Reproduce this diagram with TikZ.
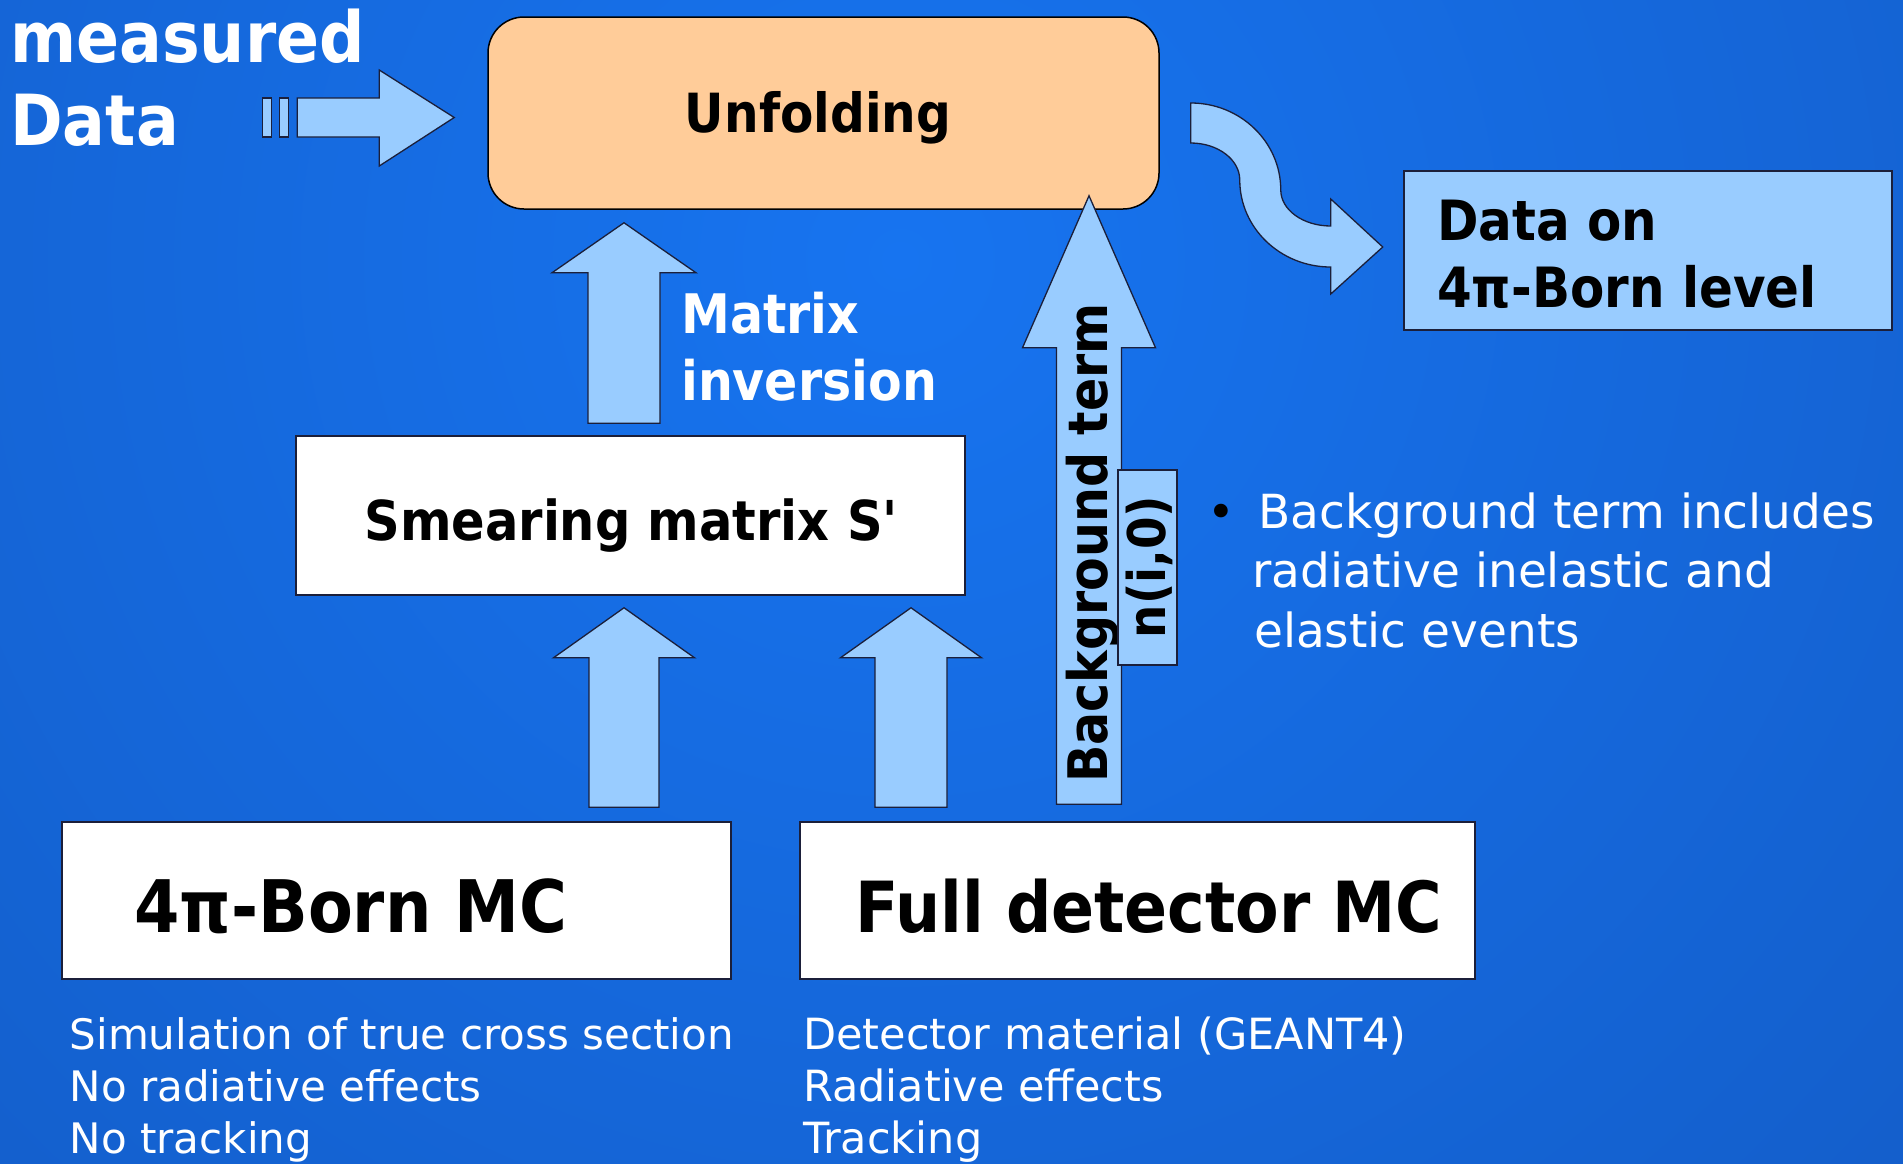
\documentclass[tikz,border=0pt]{standalone}
\usepackage{fontspec}
\setmainfont{DejaVu Sans}
\newfontfamily\condsans{DejaVu Sans}[FakeStretch=0.9]
\usetikzlibrary{calc}

\definecolor{bgin}{HTML}{1774F0}
\definecolor{bgout}{HTML}{114EAF}
\definecolor{lightblue}{HTML}{99CCFF}
\definecolor{peach}{HTML}{FFCC99}
\definecolor{edge}{HTML}{1B1F3A}

\newcommand\fsz[1]{\fontsize{#1pt}{#1pt}\selectfont}
\newcommand\bsz[1]{\condsans\bfseries\fontsize{#1pt}{#1pt}\selectfont}

\tikzset{
  blockarrow/.style={fill=lightblue, draw=edge, line width=1.3pt, line join=miter},
  panel/.style={draw=edge, line width=1.5pt, inner sep=0pt, fill=white},
  label/.style={inner sep=0pt, anchor=base west},
  heading/.style={label, font=\bsz{54.5}},
  whitehead/.style={heading, text=white},
  note/.style={label, text=white, font=\fsz{42}},
  bulletnote/.style={label, text=white, font=\fsz{47}},
}

% vertical block arrow: tail, tip, half shaft, half head, head length
\newcommand\blockup[5]{%
  \path[blockarrow] let \p1=(#1), \p2=(#2) in
    (\x1-#3pt,\y1) -- (\x1-#3pt,\y2-#5pt) -- (\x1-#4pt,\y2-#5pt) -- (\x1,\y2)
    -- (\x1+#4pt,\y2-#5pt) -- (\x1+#3pt,\y2-#5pt) -- (\x1+#3pt,\y1) -- cycle;}

\begin{document}
\begin{tikzpicture}[x=1pt,y=-1pt]
\useasboundingbox (0,0) rectangle (1903,1163);
\begin{scope}
  \clip (0,0) rectangle (1903,1163);
  \shade[inner color=bgin, outer color=bgout] (900,260) circle (2400);
\end{scope}

% boxes
\node[panel, fill=peach, draw=black, rounded corners=36pt,
      minimum width=671pt, minimum height=192pt] (unfold) at (823.5,113) {};
\node[panel, minimum width=669pt, minimum height=159pt] (smear) at (630.5,515.5) {};
\node[panel, minimum width=669pt, minimum height=157pt] (born) at (396.5,900.5) {};
\node[panel, minimum width=675pt, minimum height=157pt] (full) at (1137.5,900.5) {};
\node[panel, fill=lightblue, minimum width=488pt, minimum height=159pt] (result) at (1648,250.5) {};

% box texts
\node[heading, anchor=base, font=\bsz{54}] (unfoldtxt) at (818,132) {Unfolding};
\node[heading, anchor=base, font=\bsz{55}] (smeartxt) at (632,540) {Smearing matrix S\textquotesingle};
\node[heading, font=\bsz{72.5}] (borntxt) at (134,932) {4π-Born MC};
\node[heading, font=\bsz{70.5}] (fulltxt) at (855,932) {Full detector MC};
\node[heading, font=\bsz{55.5}] (result1) at (1437,240) {Data on};
\node[heading, font=\bsz{55.5}] (result2) at (1437,307) {4π-Born level};

% input label
\node[whitehead, font=\bsz{70.5}] (meas) at (10,62) {measured};
\node[whitehead, font=\bsz{70.5}] (data) at (10,145) {Data};

% input arrow with stripes
\coordinate (md-tip) at ($(unfold.west)+(-33,4.5)$);
\begin{scope}[shift={(md-tip)}]
  \draw[blockarrow] (0,0) -- (-75,48.5) -- (-75,19.5) -- (-157,19.5)
    -- (-157,-19.5) -- (-75,-19.5) -- (-75,-47.5) -- cycle;
  \draw[blockarrow] (-192,-19.5) rectangle (-183,19.5);
  \draw[blockarrow] (-175,-19.5) rectangle (-166,19.5);
\end{scope}

% matrix inversion arrow
\coordinate (mi-tail) at ($(smear.north)+(-6.5,-12)$);
\coordinate (mi-tip) at ($(unfold.south)+(0,13)$);
\blockup{mi-tail}{mi-tip}{36}{72}{50}
\node[whitehead] (mi1) at (681,333) {Matrix};
\node[whitehead] (mi2) at (681,400) {inversion};

% arrows from the two Monte Carlo samples
\coordinate (bl-tail) at ($(born.north)+(227.5,-14)$);
\coordinate (fl-tail) at ($(full.north)+(-226.5,-14)$);
\coordinate (sm-tip) at ($(smear.south)+(0,12)$);
\blockup{bl-tail}{sm-tip}{35}{70.5}{50}
\blockup{fl-tail}{sm-tip}{36}{70.5}{50}

% background term arrow
\coordinate (bg-tail) at ($(full.north)+(-48.5,-17)$);
\coordinate (bg-tip) at ($(unfold.south)+(0,-14)$);
\blockup{bg-tail}{bg-tip}{32.5}{66.5}{152}
\node[inner sep=0pt, anchor=base, rotate=90, font=\bsz{54.5}] (bgtxt) at (1107,543) {Background term};
\node[panel, fill=lightblue, minimum width=59pt, minimum height=195pt] (nbox) at (1147.5,567.5) {};
\node[inner sep=0pt, rotate=90, font=\bsz{52}] (ntxt) at (1149,567) {n(i,0)};

% curved output arrow
\coordinate (cv-start) at ($(unfold.east)+(31,10)$);
\begin{scope}[shift={(cv-start)}]
  \draw[blockarrow] (0,-20) arc[start angle=-90, end angle=0, x radius=90, y radius=87]
    arc[start angle=180, end angle=90, x radius=50, y radius=36]
    -- (140,76) -- (192,124) -- (140,171) -- (140,144)
    arc[start angle=90, end angle=180, x radius=91, y radius=87]
    arc[start angle=0, end angle=-90, x radius=49, y radius=37]
    -- cycle;
\end{scope}

% bullet note
\node[label, font=\fsz{47}] (bul) at (1207,528) {•};
\node[bulletnote] (bn1) at (1258,528) {Background term includes};
\node[bulletnote] (bn2) at (1252,587) {radiative inelastic and};
\node[bulletnote] (bn3) at (1254,647) {elastic events};

% sample descriptions
\node[note] (bd1) at (69.5,1049) {Simulation of true cross section};
\node[note] (bd2) at (69.5,1101) {No radiative effects};
\node[note] (bd3) at (69.5,1153) {No tracking};
\node[note, font=\fsz{43}] (fd1) at (803,1049) {Detector material (GEANT4)};
\node[note, font=\fsz{43}] (fd2) at (803,1101) {Radiative effects};
\node[note, font=\fsz{43}] (fd3) at (803,1153) {Tracking};
\end{tikzpicture}
\end{document}
